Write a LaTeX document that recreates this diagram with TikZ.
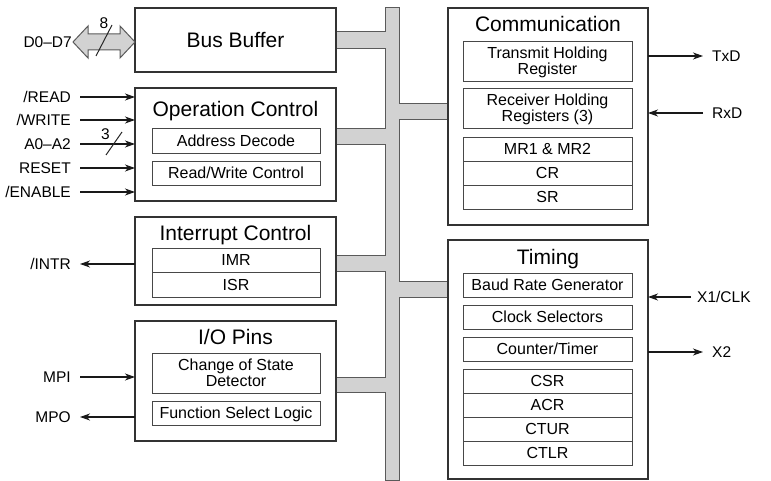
\documentclass[tikz,border=0pt]{standalone}
\usepackage{fontspec}
\setmainfont{Liberation Sans}
\usetikzlibrary{arrows.meta}
\definecolor{busgray}{HTML}{D2D2D2}
\definecolor{edge}{HTML}{333333}
\definecolor{busedge}{HTML}{5A5A5A}
\begin{document}
\begin{tikzpicture}[x=1pt,y=-1pt,
  block/.style={draw=edge, line width=1.1pt, fill=white, inner sep=0pt, outer sep=0pt},
  subbox/.style={draw=edge!90, line width=0.8pt, fill=white, inner sep=0pt, outer sep=0pt,
    minimum width=169pt, align=center, font=\fontsize{16}{16}\selectfont},
  one/.style={text height=11.2pt, text depth=0pt},
  two/.style={text depth=0pt},
  ttl/.style={inner sep=0pt, text height=15pt, text depth=0pt, font=\fontsize{21}{22}\selectfont},
  lbl/.style={inner sep=0pt, text height=11.2pt, text depth=0pt, font=\fontsize{15.5}{16}\selectfont},
  num/.style={inner sep=0pt, text height=11.2pt, text depth=0pt, font=\fontsize{15.5}{16}\selectfont},
  sig/.style={line width=1.1pt, draw=black!90, -{Stealth[length=10pt,width=7pt,inset=3pt]}},
  busline/.style={draw=busedge, line width=1pt, fill=busgray, line join=miter}
]
\useasboundingbox (0,0) rectangle (771,481);

% ---------- bus ----------
\path[busline] (385,8) -- (399,8) -- (399,104) -- (448,104) -- (448,120) -- (399,120)
  -- (399,281) -- (448,281) -- (448,297) -- (399,297) -- (399,480) -- (385,480)
  -- (385,392) -- (336,392) -- (336,377) -- (385,377) -- (385,271) -- (336,271)
  -- (336,255) -- (385,255) -- (385,145) -- (336,145) -- (336,129) -- (385,129)
  -- (385,49) -- (336,49) -- (336,32) -- (385,32) -- cycle;

% ---------- left blocks ----------
\node[block, minimum width=201pt, minimum height=64pt] (bb) at (235.5,40) {};
\node[ttl] (bbt) at (235.5,40.5) {Bus Buffer};

\node[block, minimum width=201pt, minimum height=113pt] (oc) at (235.5,144.5) {};
\node[ttl] (oct) at (235.5,109.5) {Operation Control};
\node[subbox, one, minimum width=168pt, minimum height=25pt] (ad) at (236,140.5) {Address Decode};
\node[subbox, one, minimum width=168pt, minimum height=24pt] (rw) at (236,173) {Read/Write Control};

\node[block, minimum width=201pt, minimum height=88pt] (ic) at (235.5,261) {};
\node[ttl] (ict) at (235.5,233) {Interrupt Control};
\node[subbox, one, minimum width=168pt, minimum height=24.5pt] (imr) at (236,260.25) {IMR};
\node[subbox, one, minimum width=168pt, minimum height=24.5pt] (isr) at (236,284.75) {ISR};

\node[block, minimum width=201pt, minimum height=120pt] (io) at (235.5,381) {};
\node[ttl] (iot) at (235.5,336.7) {I/O Pins};
\node[subbox, two, minimum width=168pt, minimum height=40pt] (csd) at (236,373) {Change of State\\Detector};
\node[subbox, one, minimum width=168pt, minimum height=24pt] (fsl) at (236,413) {Function Select Logic};

% ---------- right blocks ----------
\node[block, minimum width=200pt, minimum height=217pt] (cm) at (548,116.5) {};
\node[ttl] (cmt) at (548,24.5) {Communication};
\node[subbox, two, minimum height=40pt] (thr) at (547.5,61) {Transmit Holding\\Register};
\node[subbox, two, minimum height=40pt] (rhr) at (547.5,108) {Receiver Holding\\Registers (3)};
\node[subbox, one, minimum height=24pt] (mr) at (547.5,149) {MR1 \& MR2};
\node[subbox, one, minimum height=24pt] (cr) at (547.5,173) {CR};
\node[subbox, one, minimum height=24pt] (sr) at (547.5,197) {SR};

\node[block, minimum width=200pt, minimum height=239pt] (tm) at (548,359.5) {};
\node[ttl] (tmt) at (548,256.7) {Timing};
\node[subbox, one, minimum height=24pt] (brg) at (547.5,285) {Baud Rate Generator};
\node[subbox, one, minimum height=24pt] (cs) at (547.5,317) {Clock Selectors};
\node[subbox, one, minimum height=24pt] (ct) at (547.5,349) {Counter/Timer};
\node[subbox, one, minimum height=24pt] (csr) at (547.5,381) {CSR};
\node[subbox, one, minimum height=24pt] (acr) at (547.5,405) {ACR};
\node[subbox, one, minimum height=24pt] (ctur) at (547.5,429) {CTUR};
\node[subbox, one, minimum height=24pt] (ctlr) at (547.5,453) {CTLR};

% ---------- D0-D7 fat arrow ----------
\node[lbl, anchor=east] (dlab) at (72,42) {D0–D7};
\path[busline] (73,42) -- (88,26) -- (88,34) -- (120,34) -- (120,26) -- (bb.west |- 0,42)
  -- (120,58) -- (120,50) -- (88,50) -- (88,58) -- cycle;
\coordinate (s8a) at (96,56);
\coordinate (s8b) at (112,25);
\draw[line width=1pt, black!85] (s8a) -- (s8b);
\node[num] (n8) at (104,22.5) {8};

% ---------- left signals ----------
\node[lbl, anchor=east] (lread) at (71,97) {/READ};
\node[lbl, anchor=east] (lwrite) at (71,120) {/WRITE};
\node[lbl, anchor=east] (laddr) at (71,144) {A0–A2};
\node[lbl, anchor=east] (lreset) at (71,168) {RESET};
\node[lbl, anchor=east] (lenable) at (71,192) {/ENABLE};
\node[lbl, anchor=east] (lintr) at (71,264) {/INTR};
\node[lbl, anchor=east] (lmpi) at (71,377) {MPI};
\node[lbl, anchor=east] (lmpo) at (71,417) {MPO};

\coordinate (pread) at (80,97);
\coordinate (pwrite) at (80,120);
\coordinate (paddr) at (80,144);
\coordinate (preset) at (80,168);
\coordinate (penable) at (80,192);
\coordinate (pintr) at (80,264);
\coordinate (pmpi) at (80,377);
\coordinate (pmpo) at (80,417);

\draw[sig] (pread) -- (pread -| oc.west);
\draw[sig] (pwrite) -- (pwrite -| oc.west);
\draw[sig] (paddr) -- (paddr -| oc.west);
\draw[sig] (preset) -- (preset -| oc.west);
\draw[sig] (penable) -- (penable -| oc.west);
\draw[sig] (pintr -| ic.west) -- (pintr);
\draw[sig] (pmpi) -- (pmpi -| io.west);
\draw[sig] (pmpo -| io.west) -- (pmpo);

\coordinate (s3a) at (106,155);
\coordinate (s3b) at (122,132);
\draw[line width=1pt, black!85] (s3a) -- (s3b);
\node[num] (n3) at (105.5,134) {3};

% ---------- right signals ----------
\coordinate (ptxd) at (703,56);
\coordinate (prxd) at (703,113);
\coordinate (pclk) at (691,297);
\coordinate (px2) at (703,352);
\node[lbl, anchor=west] (ltxd) at (712,56) {TxD};
\node[lbl, anchor=west] (lrxd) at (712,113) {RxD};
\node[lbl, anchor=west] (lclk) at (697,297) {X1/CLK};
\node[lbl, anchor=west] (lx2) at (712,352) {X2};

\draw[sig] (ptxd -| cm.east) -- (ptxd);
\draw[sig] (prxd) -- (prxd -| cm.east);
\draw[sig] (pclk) -- (pclk -| tm.east);
\draw[sig] (px2 -| tm.east) -- (px2);
\end{tikzpicture}
\end{document}
